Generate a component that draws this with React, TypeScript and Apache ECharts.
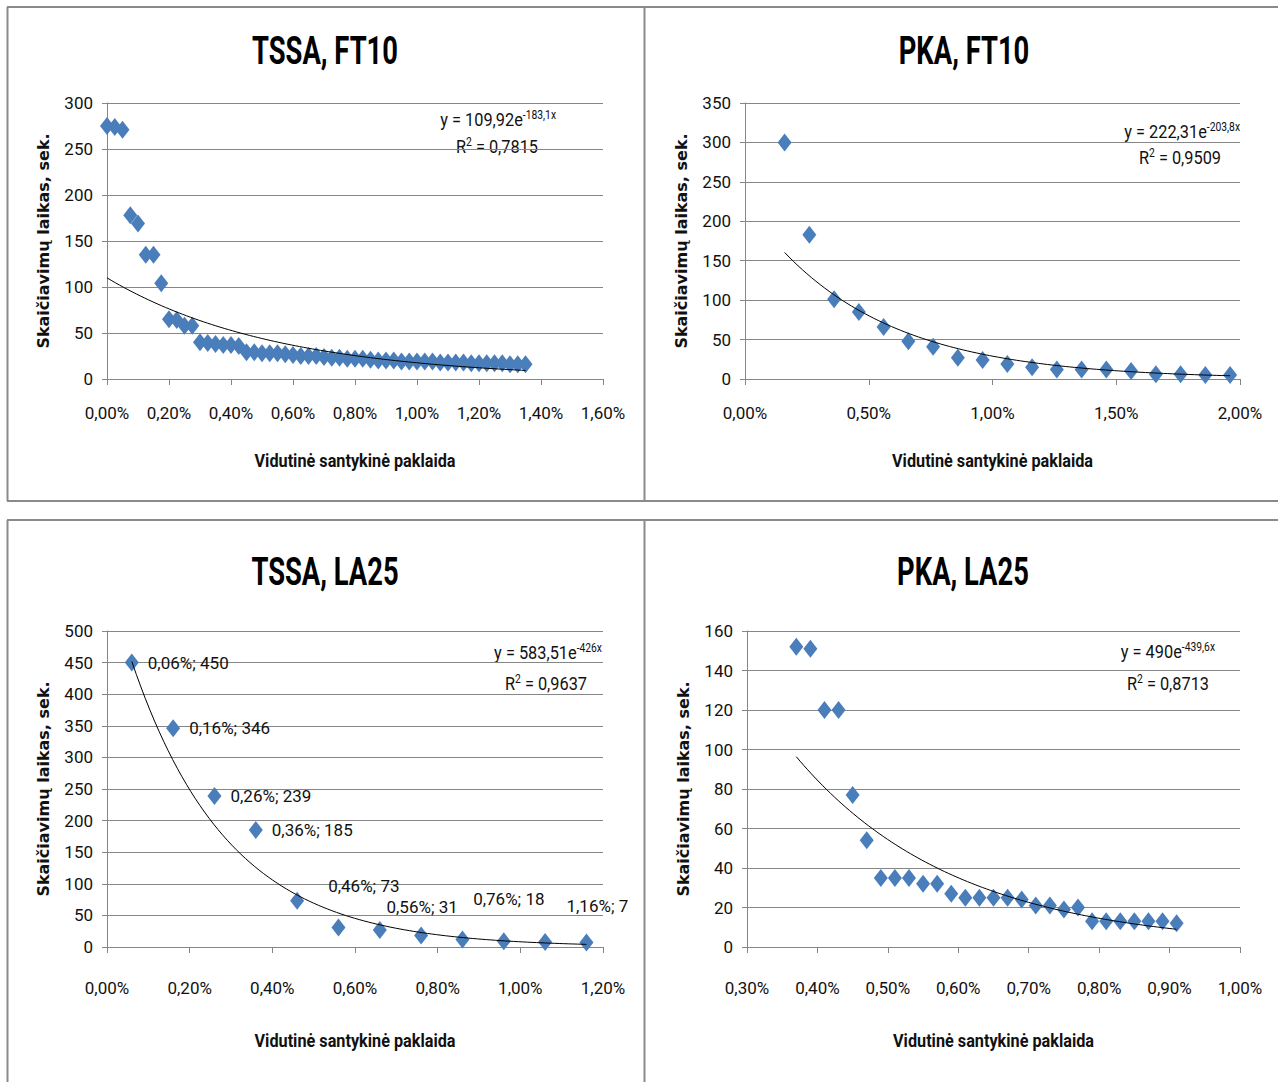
import React, { useEffect, useRef } from "react";
import * as echarts from "echarts";

// ---------- DATA ----------
const titles = ["TSSA, FT10", "PKA, FT10", "TSSA, LA25", "PKA, LA25"];

const tssaFtX = [
  0.0, 0.025, 0.05, 0.075, 0.1, 0.125, 0.15, 0.175, 0.2, 0.225, 0.25, 0.275, 0.3, 0.325, 0.35, 0.375,
  0.4, 0.425, 0.45, 0.475, 0.5, 0.525, 0.55, 0.575, 0.6, 0.625, 0.65, 0.675, 0.7, 0.725, 0.75, 0.775,
  0.8, 0.825, 0.85, 0.875, 0.9, 0.925, 0.95, 0.975, 1.0, 1.025, 1.05, 1.075, 1.1, 1.125, 1.15, 1.175,
  1.2, 1.225, 1.25, 1.275, 1.3, 1.325, 1.35,
];
const tssaFtY = [
  275, 274, 271, 178, 169, 135, 135, 104, 65, 64, 58, 58, 40, 39, 38, 37, 37, 36,
  29, 29, 28, 28, 28, 27, 26, 25, 25, 25, 24, 23, 23, 22, 22, 22, 21, 20, 20, 20,
  19, 19, 19, 19, 19, 18, 18, 18, 18, 17, 17, 17, 17, 17, 16, 16, 16,
];

const pkaFtX = [0.16, 0.26, 0.36, 0.46, 0.56, 0.66, 0.76, 0.86, 0.96, 1.06, 1.16, 1.26, 1.36, 1.46, 1.56, 1.66, 1.76, 1.86, 1.96];
const pkaFtY = [300, 183, 101, 85, 66, 48, 41, 27, 24, 19, 15, 12, 12, 12, 10, 6, 6, 5, 5];

const tssaLaX = [0.06, 0.16, 0.26, 0.36, 0.46, 0.56, 0.66, 0.76, 0.86, 0.96, 1.06, 1.16];
const tssaLaY = [450, 346, 239, 185, 73, 31, 27, 18, 12, 9, 8, 7];
const tssaLaLabelled = [0, 1, 2, 3, 4, 5, 7, 11];

const pkaLaX = [
  0.37, 0.39, 0.41, 0.43, 0.45, 0.47, 0.49, 0.51, 0.53, 0.55, 0.57, 0.59, 0.61, 0.63,
  0.65, 0.67, 0.69, 0.71, 0.73, 0.75, 0.77, 0.79, 0.81, 0.83, 0.85, 0.87, 0.89, 0.91,
];
const pkaLaY = [
  152, 151, 120, 120, 77, 54, 35, 35, 35, 32, 32, 27, 25, 25,
  25, 25, 24, 21, 21, 19, 20, 13, 13, 13, 13, 13, 13, 12,
];

// trendline y = a * e^(b * x), x as a fraction
const trendA = [109.92, 222.31, 583.51, 490];
const trendB = [-183.1, -203.8, -426, -439.6];
const eqMain = ["y = 109,92e", "y = 222,31e", "y = 583,51e", "y = 490e"];
const eqSup = ["-183,1x", "-203,8x", "-426x", "-439,6x"];
const r2Values = ["0,7815", "0,9509", "0,9637", "0,8713"];

const xTickMin = [0, 0, 0, 0.3];
const xTickMax = [1.6, 2.0, 1.2, 1.0];
const xTickStep = [0.2, 0.5, 0.2, 0.1];
const yTickMax = [300, 350, 500, 160];
const yTickStep = [50, 50, 50, 20];

const xName = "Vidutinė santykinė paklaida";
const yName = "Skaičiavimų laikas, sek.";

// ---------- STYLE / LAYOUT ----------
const LABEL_FONT = "Roboto, 'Liberation Sans', sans-serif";
const WIDE = "'DejaVu Sans', 'Liberation Sans', sans-serif";
const GRID_COLOR = "#868686";
const MARK_COLOR = "#4A7EBB";
const TEXT = "#111";

const layout = [
  { left: 107, top: 103, width: 496, height: 276, titleX: 325, titleY: 51, eqX: 556, eqY: 120, r2X: 497, r2Y: 147, xNameY: 461, labelMargin: 25 },
  { left: 745, top: 103, width: 495, height: 276, titleX: 964, titleY: 51, eqX: 1240, eqY: 132, r2X: 1180, r2Y: 158, xNameY: 461, labelMargin: 25 },
  { left: 107, top: 631, width: 496, height: 316, titleX: 325, titleY: 572, eqX: 602, eqY: 653, r2X: 546, r2Y: 684, xNameY: 1041, labelMargin: 32 },
  { left: 747, top: 631, width: 493, height: 316, titleX: 963, titleY: 572, eqX: 1215, eqY: 652, r2X: 1168, r2Y: 684, xNameY: 1041, labelMargin: 32 },
];

const tssaLaLabelOffset: Record<number, [number, number]> = {
  0: [0, 0], 1: [0, 0], 2: [0, 0], 3: [0, 0],
  4: [15, -15], 5: [32, -20], 7: [36, -37], 11: [-36, -37],
};

function pct(v: number) {
  return v.toFixed(2).replace(".", ",") + "%";
}

function trendPoints(a: number, b: number, xs: number[]) {
  const x0 = Math.min(...xs);
  const x1 = Math.max(...xs);
  const pts: number[][] = [];
  const n = 100;
  for (let k = 0; k <= n; k++) {
    const x = x0 + ((x1 - x0) * k) / n;
    pts.push([x, a * Math.exp((b * x) / 100)]);
  }
  return pts;
}

function buildOption() {
  const xsAll = [tssaFtX, pkaFtX, tssaLaX, pkaLaX];
  const ysAll = [tssaFtY, pkaFtY, tssaLaY, pkaLaY];

  const grid: any[] = [];
  const xAxis: any[] = [];
  const yAxis: any[] = [];
  const series: any[] = [];
  const graphic: any[] = [];

  const richEq = {
    m: { fontFamily: LABEL_FONT, fontSize: 19, fill: TEXT, lineHeight: 22 },
    s: { fontFamily: LABEL_FONT, fontSize: 12, fill: TEXT, verticalAlign: "top", lineHeight: 12 },
  };

  for (let i = 0; i < 4; i++) {
    const L = layout[i];
    grid.push({ left: L.left, top: L.top, width: L.width, height: L.height, containLabel: false });
    xAxis.push({
      type: "value",
      gridIndex: i,
      min: xTickMin[i],
      max: xTickMax[i],
      interval: xTickStep[i],
      axisLine: { show: true, onZero: false, lineStyle: { color: GRID_COLOR, width: 1 } },
      axisTick: { show: true, length: 6, lineStyle: { color: GRID_COLOR } },
      splitLine: { show: false },
      axisLabel: { margin: L.labelMargin, fontFamily: LABEL_FONT, fontSize: 17, color: TEXT, formatter: (v: number) => pct(v) },
    });
    yAxis.push({
      type: "value",
      gridIndex: i,
      min: 0,
      max: yTickMax[i],
      interval: yTickStep[i],
      axisLine: { show: true, lineStyle: { color: GRID_COLOR, width: 1 } },
      axisTick: { show: true, length: 5, lineStyle: { color: GRID_COLOR } },
      splitLine: { show: true, lineStyle: { color: GRID_COLOR, width: 1 } },
      axisLabel: { margin: 14, fontFamily: LABEL_FONT, fontSize: 17, color: TEXT },
      name: yName,
      nameLocation: "middle",
      nameGap: 56,
      nameTextStyle: { fontFamily: WIDE, fontSize: 16, fontWeight: "bold", color: TEXT },
    });

    const xs = xsAll[i];
    const ys = ysAll[i];
    const data = xs.map((x, k) => {
      if (i === 2 && tssaLaLabelled.indexOf(k) >= 0) {
        return { value: [x, ys[k]], label: { show: true, offset: tssaLaLabelOffset[k] } };
      }
      return { value: [x, ys[k]] };
    });
    series.push({
      type: "scatter",
      xAxisIndex: i,
      yAxisIndex: i,
      symbol: "diamond",
      symbolSize: [14, 18],
      itemStyle: { color: MARK_COLOR, opacity: 1 },
      data,
      z: 2,
      label: {
        show: false,
        position: "right",
        distance: 9,
        fontFamily: LABEL_FONT,
        fontSize: 17,
        color: TEXT,
        formatter: (p: any) => `${pct(p.value[0])}; ${p.value[1]}`,
      },
    });
    series.push({
      type: "line",
      xAxisIndex: i,
      yAxisIndex: i,
      showSymbol: false,
      symbol: "none",
      smooth: false,
      lineStyle: { color: "#000", width: 1 },
      data: trendPoints(trendA[i], trendB[i], xs),
      z: 3,
      silent: true,
    });

    graphic.push({
      type: "text",
      x: L.titleX,
      y: L.titleY,
      scaleX: 0.72,
      style: {
        text: titles[i],
        x: 0,
        y: 0,
        align: "center",
        verticalAlign: "middle",
        fontFamily: LABEL_FONT,
        fontSize: 38,
        fontWeight: "bold",
        fill: "#000",
      },
    });
    graphic.push({
      type: "text",
      x: L.left + L.width / 2,
      y: L.xNameY,
      scaleX: 0.855,
      style: {
        text: xName,
        x: 0,
        y: 0,
        align: "center",
        verticalAlign: "middle",
        fontFamily: LABEL_FONT,
        fontSize: 19,
        fontWeight: "bold",
        fill: TEXT,
      },
    });
    graphic.push({
      type: "text",
      x: L.eqX,
      y: L.eqY,
      scaleX: 0.86,
      style: {
        text: `{m|${eqMain[i]}}{s|${eqSup[i]}}`,
        x: 0,
        y: 0,
        align: "right",
        verticalAlign: "middle",
        rich: richEq,
      },
    });
    graphic.push({
      type: "text",
      x: L.r2X,
      y: L.r2Y,
      scaleX: 0.86,
      style: {
        text: `{m|R}{s|2}{m| = ${r2Values[i]}}`,
        x: 0,
        y: 0,
        align: "center",
        verticalAlign: "middle",
        rich: richEq,
      },
    });
  }

  const border = { stroke: "#8a8a8a", lineWidth: 2 };
  const lines = [
    [7, 7, 1278, 7],
    [7.5, 7, 7.5, 501],
    [7, 501, 1278, 501],
    [644.5, 7, 644.5, 501],
    [7, 520, 1278, 520],
    [7.5, 520, 7.5, 1082],
    [644.5, 520, 644.5, 1082],
  ];
  lines.forEach((l) => {
    graphic.push({ type: "line", shape: { x1: l[0], y1: l[1], x2: l[2], y2: l[3] }, style: border, silent: true });
  });

  return {
    animation: false,
    backgroundColor: "#fff",
    grid,
    xAxis,
    yAxis,
    series,
    graphic,
  };
}

export default function App() {
  const ref = useRef<HTMLDivElement>(null);
  useEffect(() => {
    const chart = echarts.init(ref.current as HTMLDivElement, null, { renderer: "svg" });
    chart.setOption(buildOption() as any);
    return () => chart.dispose();
  }, []);
  return (
    <div
      ref={ref}
      style={{ position: "absolute", left: 0, top: 0, width: 1278, height: 1082, background: "#fff" }}
    />
  );
}
